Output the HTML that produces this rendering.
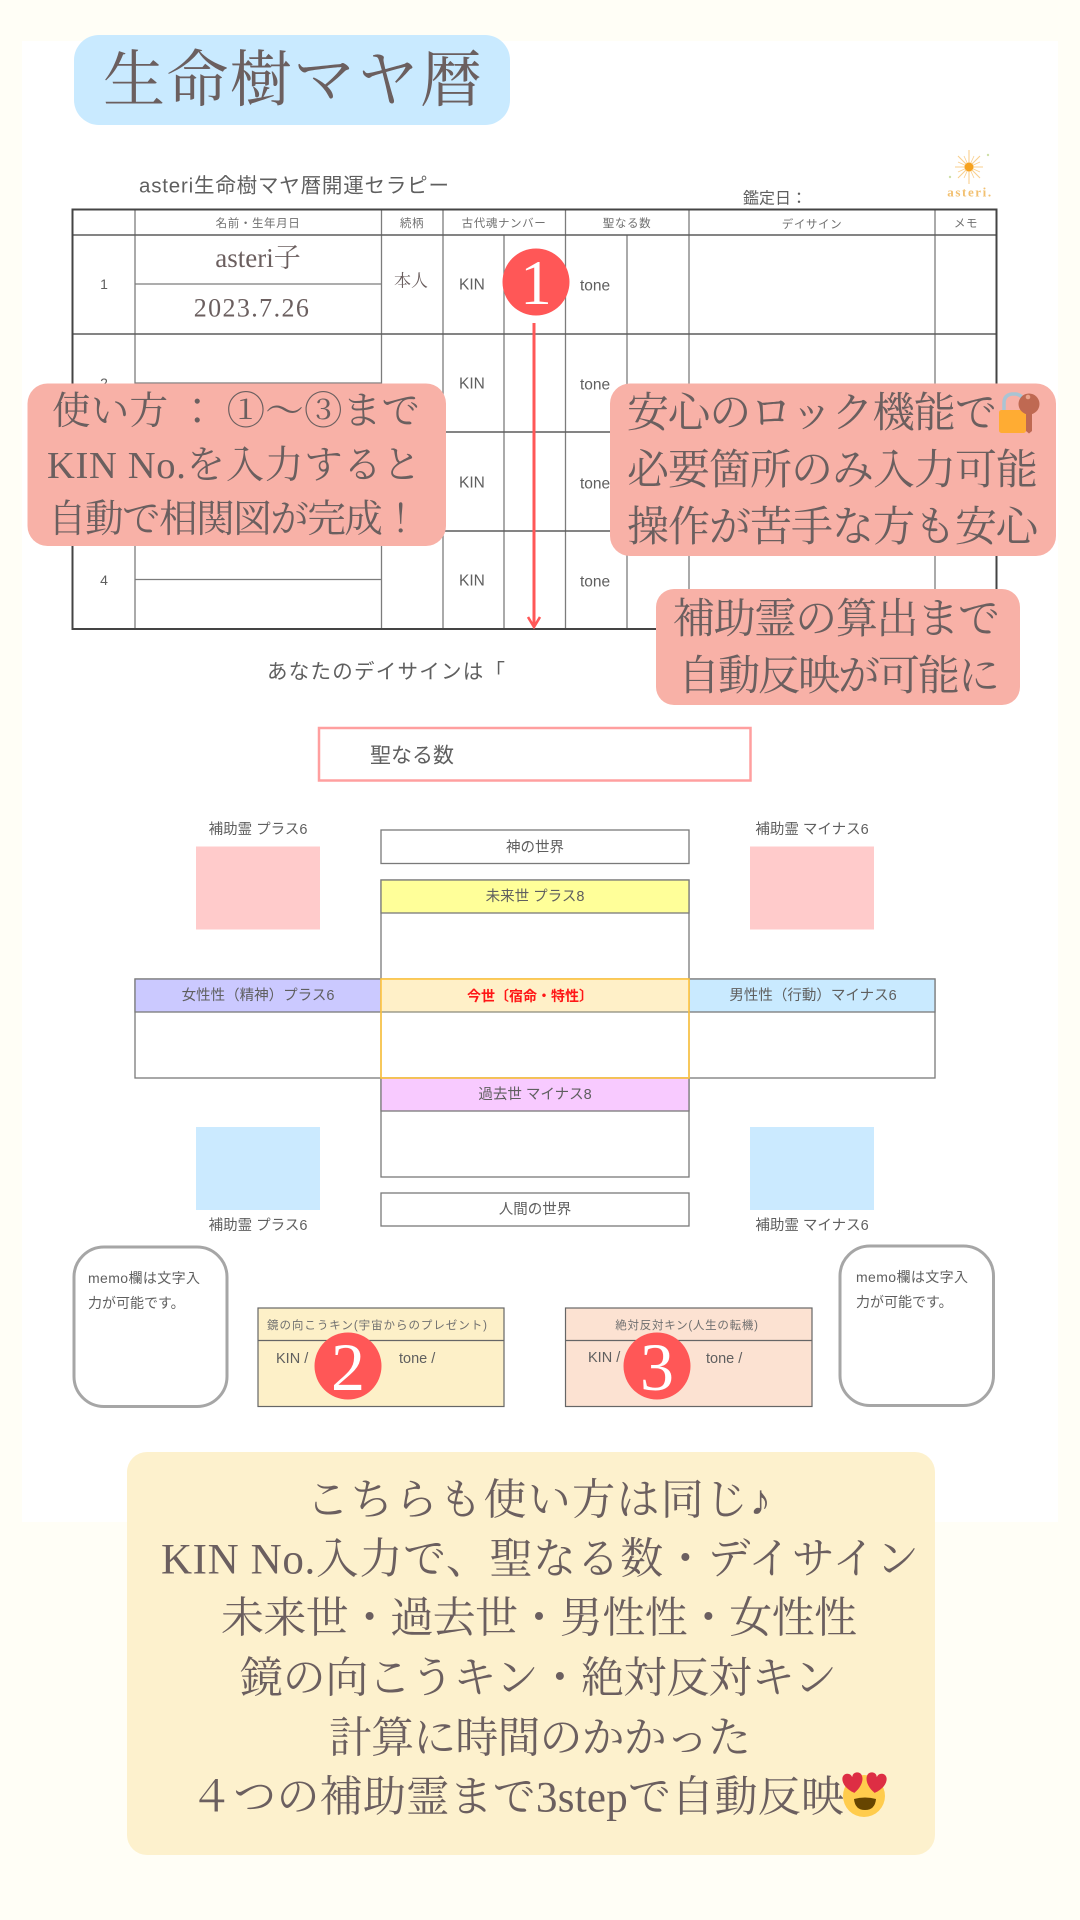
<!DOCTYPE html>
<html lang="ja"><head><meta charset="utf-8"><title>生命樹マヤ暦</title>
<style>
html,body{margin:0;padding:0;background:#fffef6}
svg{display:block}
text{dominant-baseline:central}
.sf{font-family:"Liberation Serif","Noto Serif CJK SC",serif;fill:#6b5f5f}
.ss{font-family:"Liberation Sans","Noto Sans CJK JP",sans-serif;fill:#5f5f5f}
.m{text-anchor:middle}
.t1{font-size:11.5px;fill:#707070;letter-spacing:.6px}
.t2{font-size:14.5px}
.t3{font-size:14.5px}
.c1{font-size:38.5px}
.c2{font-size:42px}
.p{font-size:43px}
</style></head><body>
<svg xmlns="http://www.w3.org/2000/svg" width="1080" height="1920" viewBox="0 0 1080 1920">
<rect width="1080" height="1920" fill="#fffef6"/>
<rect x="22" y="41" width="1036" height="1481" fill="#fff"/>

<!-- title -->
<rect x="74" y="35" width="436" height="90" rx="25" fill="#c9eaff"/>
<text class="sf" x="103" y="81" font-size="62" textLength="379">生命樹マヤ暦</text>

<!-- header -->
<text class="ss" x="139" y="186" font-size="20.5" textLength="310">asteri生命樹マヤ暦開運セラピー</text>
<text class="ss" x="743" y="199" font-size="16">鑑定日：</text>
<g stroke="#f9cf8e" stroke-width="1.1">
<path d="M969 150V184M955 167H983M958 156L980 178M958 178L980 156"/>
<path d="M964 156L974 178M964 178L974 156M958 162L980 172M958 172L980 162" stroke-width=".8"/>
</g>
<circle cx="969" cy="167" r="4.5" fill="#f6a21e"/>
<circle cx="988" cy="155" r="1.2" fill="#cfe0a8"/><circle cx="950" cy="177" r="1.2" fill="#cfe0a8"/>
<text x="970" y="192" text-anchor="middle" font-family="Liberation Serif,serif" font-size="13" font-weight="bold" letter-spacing="1.6" fill="#f2c070">asteri.</text>

<!-- table -->
<g fill="none">
<path stroke="#7c7c7c" stroke-width="1.3" d="M135 209V629M381.5 209V629M443 209V629M565.5 209V629M689 209V629M935 209V629M504 235V629M627 235V629"/>
<path stroke="#5c5c5c" stroke-width="1.4" d="M72 235H996M72 334H996M72 432H996M72 531H996"/>
<path stroke="#7c7c7c" stroke-width="1.3" d="M135 284H381M135 383H381M135 481H381M135 579.5H381"/>
<rect x="72.5" y="209.5" width="924" height="419.5" stroke="#444" stroke-width="2"/>
</g>
<g class="ss">
<text class="ss m t1" x="258" y="224">名前・生年月日</text>
<text class="ss m t1" x="412" y="224">続柄</text>
<text class="ss m t1" x="504" y="224">古代魂ナンバー</text>
<text class="ss m t1" x="627" y="224">聖なる数</text>
<text class="ss m t1" x="812" y="225">デイサイン</text>
<text class="ss m t1" x="966" y="224">メモ</text>
</g>
<text class="sf m" x="258" y="258" font-size="27">asteri子</text>
<text class="sf m" x="252" y="308" font-size="26" letter-spacing="1.4">2023.7.26</text>
<text class="sf m" x="411" y="281" font-size="17">本人</text>
<text class="ss m" x="104" y="284" font-size="14">1</text>
<text class="ss m" x="104" y="383" font-size="14">2</text>
<text class="ss m" x="104" y="580" font-size="14">4</text>
<g class="ss" font-size="15.5">
<text class="ss" x="459" y="285">KIN</text><text class="ss" x="580" y="286">tone</text>
<text class="ss" x="459" y="384">KIN</text><text class="ss" x="580" y="385">tone</text>
<text class="ss" x="459" y="483">KIN</text><text class="ss" x="580" y="484">tone</text>
<text class="ss" x="459" y="581">KIN</text><text class="ss" x="580" y="582">tone</text>
</g>

<text class="ss" x="267" y="672" font-size="20.5" textLength="238">あなたのデイサインは「</text>

<!-- arrow -->
<path d="M534 323V626" stroke="#ff5757" stroke-width="3" fill="none"/>
<path d="M528 617L534 627L540 617" stroke="#ff5757" stroke-width="2.6" fill="none"/>

<!-- circle 1 -->
<circle cx="536" cy="282" r="33.5" fill="#ff5757"/>
<text x="536" y="283" text-anchor="middle" font-family="Liberation Serif,serif" font-size="63" fill="#fff">1</text>

<!-- callouts -->
<rect x="27.5" y="383.5" width="418.5" height="162.5" rx="20" fill="#f8b1a7"/>
<text class="sf c1" x="52" y="412" textLength="368">使い方 ： ①～③まで</text>
<text class="sf c1" x="47" y="466" textLength="374">KIN No.を入力すると</text>
<text class="sf c1" x="48" y="520" textLength="372">自動で相関図が完成！</text>

<rect x="610" y="383.5" width="446" height="172.5" rx="20" fill="#f8b1a7"/>
<text class="sf c2" x="627" y="414" textLength="370">安心のロック機能で</text>
<text class="sf c2" x="627" y="471" textLength="411">必要箇所のみ入力可能</text>
<text class="sf c2" x="627" y="528" textLength="411">操作が苦手な方も安心</text>
<!-- lock & key -->
<path d="M1004 411V403Q1004 395 1012 394H1016Q1022 395 1024 401" fill="none" stroke="#a9c4d4" stroke-width="3.5"/>
<rect x="999" y="410" width="27" height="23" rx="2.5" fill="#ffac33"/>
<circle cx="1029" cy="404" r="10.5" fill="#bf6952"/>
<circle cx="1028" cy="397" r="2.3" fill="#eba48c"/>
<path d="M1026 408H1032V431L1029 433.5L1026 431Z" fill="#bf6952"/>

<rect x="656" y="589" width="364" height="116" rx="18" fill="#f8b1a7"/>
<text class="sf c2" x="673" y="620" textLength="327">補助霊の算出まで</text>
<text class="sf c2" x="678" y="677" textLength="322">自動反映が可能に</text>

<!-- sacred number -->
<rect x="319" y="728" width="431.5" height="52.5" fill="#fff" stroke="#ff9f9f" stroke-width="2.5"/>
<text class="ss" x="370" y="756" font-size="21">聖なる数</text>

<!-- squares -->
<rect x="196" y="846.5" width="124" height="83" fill="#ffcbcb"/>
<rect x="750" y="846.5" width="124" height="83" fill="#ffcbcb"/>
<rect x="196" y="1127" width="124" height="83" fill="#cbeaff"/>
<rect x="750" y="1127" width="124" height="83" fill="#cbeaff"/>
<text class="ss m t2" x="258" y="830">補助霊 プラス6</text>
<text class="ss m t2" x="812" y="830">補助霊 マイナス6</text>
<text class="ss m t2" x="258" y="1226">補助霊 プラス6</text>
<text class="ss m t2" x="812" y="1226">補助霊 マイナス6</text>

<!-- center structure -->
<g stroke="#7a7a7a" stroke-width="1.3">
<rect x="381" y="830" width="308" height="33.5" fill="#fff"/>
<rect x="381" y="880" width="308" height="99" fill="#fff"/>
<rect x="381" y="880" width="308" height="33" fill="#ffff99"/>
<rect x="135" y="979" width="246" height="99" fill="#fff"/>
<rect x="135" y="979" width="246" height="33" fill="#cbc9ff"/>
<rect x="689" y="979" width="246" height="99" fill="#fff"/>
<rect x="689" y="979" width="246" height="33" fill="#c9eaff"/>
<rect x="381" y="1078" width="308" height="99" fill="#fff"/>
<rect x="381" y="1078" width="308" height="33" fill="#f8caff"/>
<rect x="381" y="1193" width="308" height="33" fill="#fff"/>
</g>
<rect x="381" y="979" width="308" height="33" fill="#fff0c8"/>
<path d="M381 1012H689" stroke="#8a8a7a" stroke-width="1.3"/>
<rect x="381" y="979" width="308" height="99" fill="none" stroke="#ffc43d" stroke-width="1.6"/>
<text class="ss m t3" x="535" y="848">神の世界</text>
<text class="ss m t3" x="535" y="897">未来世 プラス8</text>
<text class="ss m t3" x="258" y="996">女性性（精神）プラス6</text>
<text class="ss m t3" x="813" y="996">男性性（行動）マイナス6</text>
<text class="ss m" x="530" y="996" font-size="14" font-weight="bold" style="fill:#ff1616">今世〔宿命・特性〕</text>
<text class="ss m t3" x="535" y="1095">過去世 マイナス8</text>
<text class="ss m t3" x="535" y="1210">人間の世界</text>

<!-- memo -->
<rect x="74" y="1247" width="153" height="159.5" rx="30" fill="#fff" stroke="#a6a6a6" stroke-width="3"/>
<rect x="840" y="1246" width="153.5" height="159.5" rx="30" fill="#fff" stroke="#a6a6a6" stroke-width="3"/>
<text class="ss" x="88" y="1278" font-size="14" textLength="112">memo欄は文字入</text>
<text class="ss" x="88" y="1303" font-size="14">力が可能です。</text>
<text class="ss" x="856" y="1277" font-size="14" textLength="112">memo欄は文字入</text>
<text class="ss" x="856" y="1302" font-size="14">力が可能です。</text>

<!-- bottom boxes -->
<g stroke="#666" stroke-width="1.2">
<rect x="258" y="1308" width="246" height="98.5" fill="#fdf0c8"/>
<path d="M258 1340.5H504"/>
<rect x="565.5" y="1308" width="246.5" height="98.5" fill="#fce2d2"/>
<path d="M565.5 1340.5H812"/>
</g>
<text class="ss" x="267" y="1326" font-size="11.5" textLength="220" style="fill:#707070">鏡の向こうキン(宇宙からのプレゼント)</text>
<text class="ss m" x="687" y="1326" font-size="11.5" letter-spacing=".75" style="fill:#707070">絶対反対キン(人生の転機)</text>
<text class="ss" x="276" y="1359" font-size="14.5">KIN /</text>
<text class="ss" x="399" y="1359" font-size="14.5">tone /</text>
<text class="ss" x="588" y="1358" font-size="14.5">KIN /</text>
<text class="ss" x="706" y="1359" font-size="14.5">tone /</text>
<circle cx="348" cy="1366" r="33.5" fill="#ff5757"/>
<text x="348" y="1367" text-anchor="middle" font-family="Liberation Serif,serif" font-size="68" fill="#fff">2</text>
<circle cx="657" cy="1366" r="33.5" fill="#ff5757"/>
<text x="657" y="1367" text-anchor="middle" font-family="Liberation Serif,serif" font-size="68" fill="#fff">3</text>

<!-- bottom panel -->
<rect x="127" y="1452" width="808" height="403" rx="20" fill="#fdf1cd"/>
<text class="sf p" x="306" y="1501" textLength="465">こちらも使い方は同じ♪</text>
<text class="sf p" x="161" y="1560" textLength="758">KIN No.入力で、聖なる数・デイサイン</text>
<text class="sf p" x="221" y="1619" textLength="636">未来世・過去世・男性性・女性性</text>
<text class="sf p" x="240" y="1679" textLength="597">鏡の向こうキン・絶対反対キン</text>
<text class="sf p" x="329" y="1739" textLength="422">計算に時間のかかった</text>
<text class="sf p" x="190" y="1798" textLength="654">４つの補助霊まで3stepで自動反映</text>
<!-- emoji -->
<circle cx="864" cy="1796" r="21" fill="#ffcc4d"/>
<path d="M854 1799Q865 1796 876 1799Q875 1810 865 1810Q855 1810 854 1799Z" fill="#664500"/>
<path transform="rotate(-8 853 1783)" d="M853 1793C840 1785 841 1773 848 1773Q852 1773 853 1777Q854 1773 858 1773C865 1773 866 1785 853 1793Z" fill="#dd2e44"/>
<path transform="rotate(8 876 1783)" d="M876 1793C863 1785 864 1773 871 1773Q875 1773 876 1777Q877 1773 881 1773C888 1773 889 1785 876 1793Z" fill="#dd2e44"/>
</svg>
</body></html>
